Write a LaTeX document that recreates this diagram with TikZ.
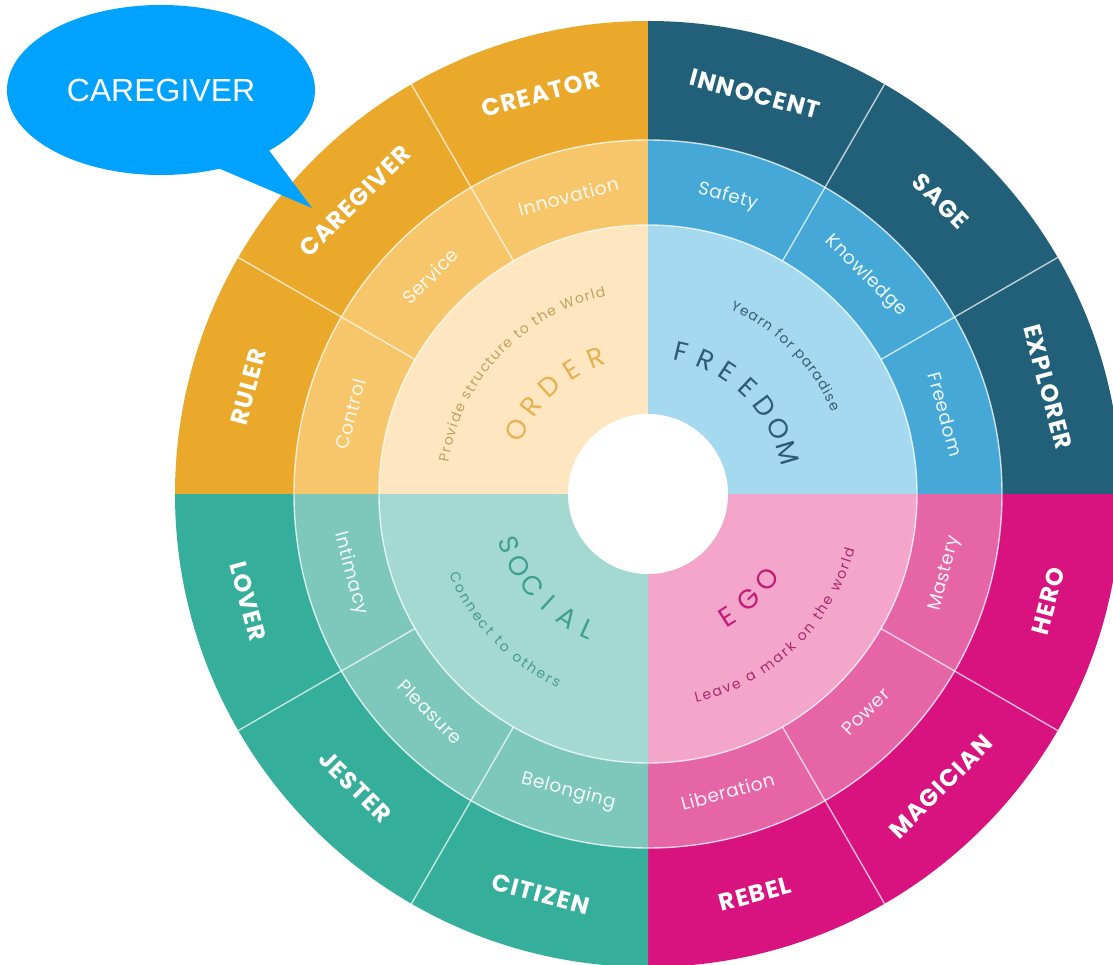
\documentclass[tikz,border=0pt]{standalone}
\usepackage{fontspec}
\setmainfont{Poppins}
\newfontfamily\bubblefont{Liberation Sans}
\usetikzlibrary{decorations.text,shapes.geometric}
\definecolor{oOut}{HTML}{EAA92B}
\definecolor{oMid}{HTML}{F8C66A}
\definecolor{oIn}{HTML}{FDE6C0}
\definecolor{bOut}{HTML}{22607A}
\definecolor{bMid}{HTML}{45A8D6}
\definecolor{bIn}{HTML}{A5D9F0}
\definecolor{tOut}{HTML}{35AE9B}
\definecolor{tMid}{HTML}{7DC8BB}
\definecolor{tIn}{HTML}{A3D9D1}
\definecolor{mOut}{HTML}{D8127E}
\definecolor{mMid}{HTML}{E565A7}
\definecolor{mIn}{HTML}{F3A6C9}
\definecolor{bubbleC}{HTML}{00A2FF}
\definecolor{orderC}{HTML}{E6B150}
\definecolor{orderS}{HTML}{C4A060}
\definecolor{freeC}{HTML}{2D5D74}
\definecolor{freeS}{HTML}{3A5F70}
\definecolor{socC}{HTML}{3F9F90}
\definecolor{socS}{HTML}{4A9A8C}
\definecolor{egoC}{HTML}{C51A7A}
\definecolor{egoS}{HTML}{A8286E}
\newcommand\smalltxt{\fontsize{14}{16}\selectfont}
\tikzset{
  outerlbl/.style={text=white, font=\bfseries\fontsize{24}{26}\selectfont\addfontfeature{LetterSpace=5}, inner sep=0pt},
  midlbl/.style={text=white, text opacity=0.9, font=\fontsize{18.5}{20}\selectfont\addfontfeature{LetterSpace=3}, inner sep=0pt},
  bigword/.style={font=\fontsize{27}{29}\selectfont, inner sep=0pt},
  divider/.style={draw=white, draw opacity=0.7, line width=1.4pt},
  ringline/.style={draw=white, draw opacity=0.75, line width=1.4pt},
  bubblenode/.style={ellipse, fill=bubbleC, minimum width=308pt, minimum height=170pt, inner sep=0pt,
     text=white, font=\bubblefont\fontsize{32}{34}\selectfont},
}
\begin{document}
\begin{tikzpicture}[x=1pt,y=1pt]
\useasboundingbox (-648,-470) rectangle (465,494);
\clip (-648,-470) rectangle (465,494);
\fill[white] (-648,-470) rectangle (465,494);
% outer ring
\fill[oOut] (0,0) -- (90:473) arc[start angle=90, end angle=180, radius=473] -- cycle;
\fill[bOut] (0,0) -- (0:473) arc[start angle=0, end angle=90, radius=473] -- cycle;
\fill[mOut] (0,0) -- (-90:473) arc[start angle=-90, end angle=0, radius=473] -- cycle;
\fill[tOut] (0,0) -- (180:473) arc[start angle=180, end angle=270, radius=473] -- cycle;
% middle ring
\fill[oMid] (0,0) -- (90:354) arc[start angle=90, end angle=180, radius=354] -- cycle;
\fill[bMid] (0,0) -- (0:354) arc[start angle=0, end angle=90, radius=354] -- cycle;
\fill[mMid] (0,0) -- (-90:354) arc[start angle=-90, end angle=0, radius=354] -- cycle;
\fill[tMid] (0,0) -- (180:354) arc[start angle=180, end angle=270, radius=354] -- cycle;
% inner ring
\fill[oIn] (0,0) -- (90:269) arc[start angle=90, end angle=180, radius=269] -- cycle;
\fill[bIn] (0,0) -- (0:269) arc[start angle=0, end angle=90, radius=269] -- cycle;
\fill[mIn] (0,0) -- (-90:269) arc[start angle=-90, end angle=0, radius=269] -- cycle;
\fill[tIn] (0,0) -- (180:269) arc[start angle=180, end angle=270, radius=269] -- cycle;
% center
\fill[white] (0,0) circle[radius=80];
% ring lines and dividers
\draw[ringline] (0,0) circle[radius=354];
\draw[ringline] (0,0) circle[radius=269];
\foreach \a in {30,60,120,150,210,240,300,330}
  \draw[divider] (\a:269) -- (\a:473);
% outer labels
\foreach \a/\t in {105/CREATOR,135/CAREGIVER,165/RULER,75/INNOCENT,45/SAGE,15/EXPLORER}
  \node[outerlbl, rotate=\a-90] (out\t) at (\a:414) {\t};
\foreach \a/\t in {-15/HERO,-45/MAGICIAN,-75/REBEL,-105/CITIZEN,-135/JESTER,-165/LOVER}
  \node[outerlbl, rotate=\a+90] (out\t) at (\a:414) {\t};
% middle labels
\foreach \a/\t in {105/Innovation,135/Service,165/Control,75/Safety,45/Knowledge,15/Freedom}
  \node[midlbl, rotate=\a-90] (mid\t) at (\a:308) {\t};
\foreach \a/\t in {-15/Mastery,-45/Power,-75/Liberation,-105/Belonging,-135/Pleasure,-165/Intimacy}
  \node[midlbl, rotate=\a+90] (mid\t) at (\a:308) {\t};
% big words
\foreach \l [count=\i from 0] in {O,R,D,E,R}
  \node[bigword, text=orderC, rotate={64-\i*10.75}] (ord\i) at ({154-\i*10.75}:146) {\l};
\foreach \l [count=\i from 0] in {F,R,E,E,D,O,M}
  \node[bigword, text=freeC, rotate={-13-\i*10.1}] (fre\i) at ({77-\i*10.1}:146) {\l};
\foreach \l [count=\i from 0] in {E,G,O}
  \node[bigword, text=egoC, rotate={32.8+\i*10.8}] (ego\i) at ({-57.2+\i*10.8}:146) {\l};
\foreach \l [count=\i from 0] in {S,O,C,I,A,L}
  \node[bigword, text=socC, rotate={-70+\i*9.2}] (soc\i) at ({-160+\i*9.2}:148) {\l};
% small curved texts
\path[decorate, decoration={text along path, text align={fit to path}, text color=orderS,
   text={|\smalltxt|Provide structure to the World}}]
   (171:202) arc[start angle=171, end angle=102, radius=202];
\path[decorate, decoration={text along path, text align={fit to path}, text color=freeS,
   text={|\smalltxt|Yearn for paradise}}]
   (66:202) arc[start angle=66, end angle=24, radius=202];
\path[decorate, decoration={text along path, text align={fit to path}, text color=egoS,
   text={|\smalltxt|Leave a mark on the world}}]
   (-77:214) arc[start angle=-77, end angle=-15, radius=214];
\path[decorate, decoration={text along path, text align={fit to path}, text color=socS,
   text={|\smalltxt|Connect to others}}]
   (-158:214) arc[start angle=-158, end angle=-115, radius=214];
% callout
\node[bubblenode] (bubble) at (-487,404) {CAREGIVER};
\coordinate (tailA) at (-430,326);
\coordinate (tailB) at (-380,345);
\coordinate (tailIn) at (-420,360);
\coordinate (tailtip) at (-336,286);
\fill[bubbleC] (tailA) -- (tailtip) -- (tailB) -- (tailIn) -- cycle;
\end{tikzpicture}
\end{document}
